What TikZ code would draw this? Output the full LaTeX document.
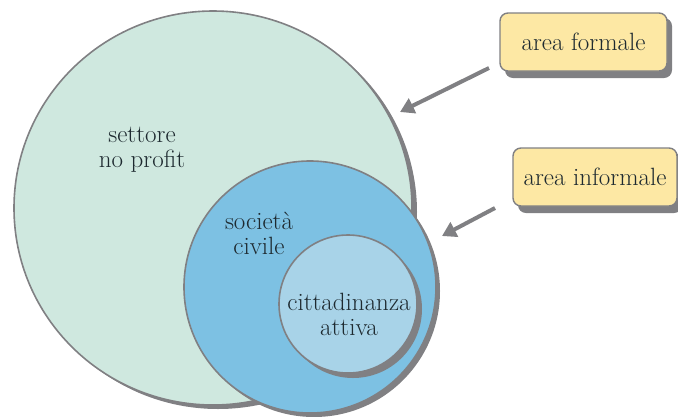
\documentclass[tikz,border=0pt]{standalone}
\usetikzlibrary{shapes.geometric,arrows.meta}
\definecolor{edgegrey}{HTML}{808083}
\definecolor{mint}{HTML}{CFE8DF}
\definecolor{midblue}{HTML}{7DC1E3}
\definecolor{lightblue}{HTML}{A8D3E8}
\definecolor{boxyellow}{HTML}{FDE8A4}
\definecolor{txt}{HTML}{1E2A30}
\tikzset{
  setshape/.style={draw=edgegrey, line width=1.6pt, inner sep=0pt},
  lbl/.style={text=txt, font=\fontsize{25}{25}\selectfont, align=center},
  tagbox/.style={draw=edgegrey, line width=1.4pt, fill=boxyellow, rounded corners=8pt,
     text=txt, font=\fontsize{25}{25}\selectfont, minimum height=58pt, inner xsep=4pt},
  pointer/.style={draw=edgegrey, line width=4pt, -{Triangle[length=14pt,width=16pt]}}
}
\begin{document}
\begin{tikzpicture}[x=1pt,y=-1pt]
\useasboundingbox (0,0) rectangle (678,416);
% big ellipse
\fill[edgegrey] (218,212) ellipse [x radius=199pt, y radius=197pt];
\node[setshape, ellipse, fill=mint, minimum width=398pt, minimum height=394pt] (big) at (213,208) {};
% medium circle
\fill[edgegrey] (314,291) circle [radius=126pt];
\node[setshape, circle, fill=midblue, minimum size=252pt] (mid) at (310,287) {};
% small circle
\fill[edgegrey] (353,309) circle [radius=69pt];
\node[setshape, circle, fill=lightblue, minimum size=138pt] (small) at (348,304) {};
% labels
\node[lbl] (t1) at (142,150) {settore\\no profit};
\node[lbl] (t2) at (259,233) {società\\civile};
\node[lbl] (t3) at (349,314) {cittadinanza\\attiva};
% boxes with shadow
\fill[edgegrey, rounded corners=8pt] (505,18) rectangle (672,78);
\node[tagbox, minimum width=167pt] (b1) at (583.5,42) {area formale};
\fill[edgegrey, rounded corners=8pt] (518,153) rectangle (682,213);
\node[tagbox, minimum width=164pt] (b2) at (595,177) {area informale};
% arrows
\coordinate (a1s) at (489,68);
\coordinate (a1e) at (400,112);
\coordinate (a2s) at (495,208);
\coordinate (a2e) at (442,236);
\draw[pointer] (a1s) -- (a1e);
\draw[pointer] (a2s) -- (a2e);
\end{tikzpicture}
\end{document}
